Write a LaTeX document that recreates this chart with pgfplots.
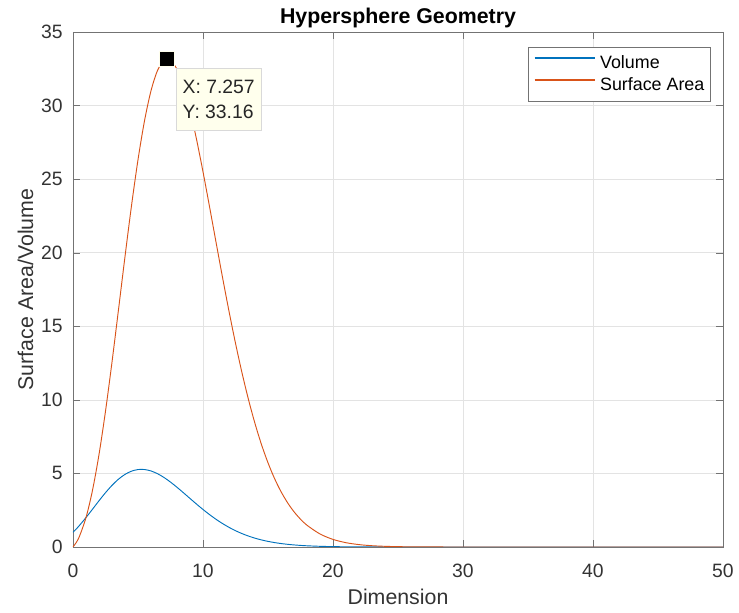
\documentclass[border=0pt]{standalone}
\usepackage{pgfplots}
\pgfplotsset{compat=1.18}
\usepackage{fontspec}
\setmainfont{Liberation Sans}
\definecolor{mblue}{rgb}{0,0.447,0.741}
\definecolor{morange}{rgb}{0.85,0.325,0.098}
\definecolor{axgray}{gray}{0.45}
\definecolor{tipbg}{rgb}{1,1,0.93}
\begin{document}
\begin{tikzpicture}
\useasboundingbox (-54.75pt,-49.5pt) rectangle (499.5pt,410.25pt);
\begin{axis}[
  at={(0,0)}, anchor=south west,
  scale only axis,
  width=487.5pt, height=386.25pt,
  xmin=0, xmax=50, ymin=0, ymax=35,
  xtick={0,10,...,50}, ytick={0,5,...,35},
  tick align=inside,
  axis line style={axgray},
  tick style={axgray, major tick length=5pt},
  grid=major,
  major grid style={gray!22},
  title={\bfseries Hypersphere Geometry},
  title style={at={(axis description cs:0.5,1.0)}, anchor=base, font=\fontsize{16}{18}\selectfont},
  xlabel={Dimension}, ylabel={Surface Area/Volume},
  every axis x label/.style={at={(axis description cs:0.5,-0.112)}, anchor=base, font=\fontsize{16}{18}\selectfont, color=black!80},
  every axis y label/.style={at={(axis description cs:-0.0615,0.5)}, anchor=base, rotate=90, font=\fontsize{16}{18}\selectfont, color=black!80},
  ticklabel style={font=\fontsize{14.5}{16}\selectfont, color=black!80},
  xticklabel style={anchor=base, yshift=-23pt},
  yticklabel style={anchor=east, inner sep=0pt, xshift=-7.5pt},
  /pgf/number format/assume math mode=true,
  legend style={at={(axis description cs:0.981,0.9709)}, anchor=north east, draw=axgray, font=\fontsize{13.4}{16}\selectfont, inner xsep=4.5pt, inner ysep=5pt, nodes={inner sep=0pt, text height=11pt, text depth=3pt}, row sep=2.5pt, column sep=3.75pt, fill=white},
  legend cell align=left,
]
\addplot[mblue, line width=0.7pt, smooth, legend image code/.code={\draw[draw=mblue, line width=0.9pt] (0pt,4pt) -- (45pt,4pt);}] coordinates {
(0,1) (0.25,1.2252) (0.5,1.4688) (1,2) (1.5,2.5674) (2,3.1416) (2.5,3.6915) (3,4.1888) (3.5,4.6091) (4,4.9348) (4.5,5.1540) (5,5.2638) (5.5,5.2655) (6,5.1677) (6.5,4.9822) (7,4.7248) (7.5,4.4110) (8,4.0587) (8.5,3.6829) (9,3.2985) (9.5,2.9174) (10,2.5502) (10.5,2.2038) (11,1.8841) (11.5,1.5940) (12,1.3353) (12.5,1.1078) (13,0.9106) (13.5,0.7419) (14,0.5993) (14.5,0.4800) (15,0.3814) (15.5,0.3007) (16,0.2353) (16.5,0.1828) (17,0.1409) (17.5,0.1080) (18,0.0821) (19,0.0466) (20,0.0258) (21,0.0139) (22,0.0074) (23,0.0038) (24,0.0019) (25,0.0010) (26,0.0005) (28,0.0001) (30,0) (35,0) (40,0) (45,0) (50,0)
};
\addlegendentry{Volume}
\addplot[morange, line width=0.7pt, smooth, legend image code/.code={\draw[draw=morange, line width=0.9pt] (0pt,4pt) -- (45pt,4pt);}] coordinates {
(0,0) (0.25,0.306) (0.5,0.734) (1,2) (1.5,3.851) (2,6.283) (2.5,9.229) (3,12.566) (3.5,16.132) (4,19.739) (4.5,23.193) (5,26.319) (5.5,28.960) (6,31.006) (6.5,32.384) (7,33.073) (7.257,33.16) (7.5,33.082) (8,32.470) (8.5,31.305) (9,29.687) (9.5,27.716) (10,25.502) (10.5,23.140) (11,20.725) (11.5,18.331) (12,16.023) (12.5,13.847) (13,11.838) (13.5,10.015) (14,8.390) (14.5,6.960) (15,5.721) (15.5,4.661) (16,3.765) (16.5,3.016) (17,2.396) (17.5,1.890) (18,1.478) (19,0.885) (20,0.516) (21,0.293) (22,0.162) (23,0.0875) (24,0.0462) (25,0.0238) (26,0.0120) (27,0.0059) (28,0.0029) (30,0.0006) (35,0) (40,0) (45,0) (50,0)
};
\addlegendentry{Surface Area}
\addplot[only marks, mark=square*, mark size=5.6pt, mark options={fill=black, draw=tipbg, line width=0.6pt}, forget plot] coordinates {(7.257,33.16)};
\node[anchor=north west, fill=tipbg, draw=gray!30, align=left, font=\fontsize{14.5}{18.75}\selectfont, inner xsep=4.8pt, inner ysep=9pt, text=black!85] at (axis cs:7.257,33.16) [xshift=6.5pt, yshift=-6.5pt] {X: 7.257\\Y: 33.16};
\end{axis}
\end{tikzpicture}
\end{document}
